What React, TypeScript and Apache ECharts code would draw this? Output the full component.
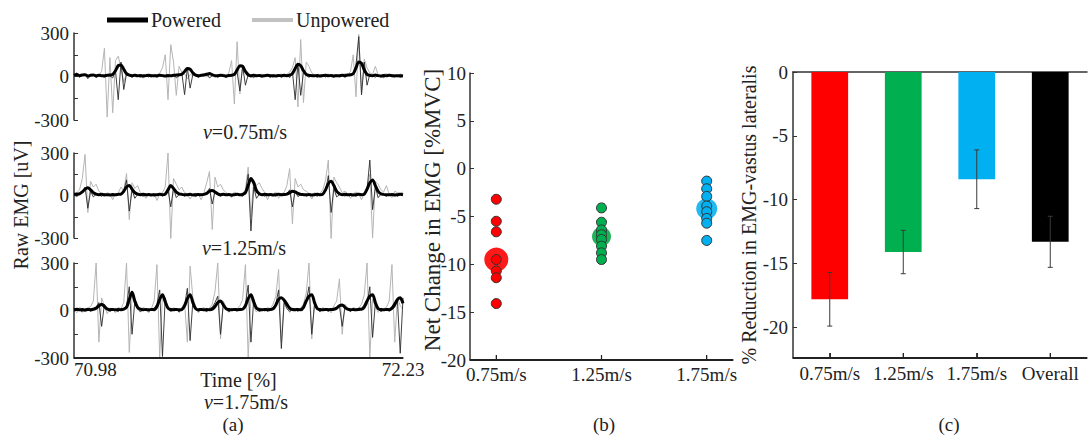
import React, { useEffect, useRef } from "react";
import * as echarts from "echarts";

const FONT = "Liberation Serif";
const TXT = "#222";
const AX = "#333";
const TICK_FS = 19;

// ---------- Panel (a) : raw EMG traces ----------
const timeLabels = ["70.98", "72.23"];
const emgTickValues = [-300, -150, 0, 150, 300];
const emgLabelValues = [-300, 0, 300];
const speedTexts = ["0.75", "1.25", "1.75"];

const unpowered075 = [
  8, 15, -6, 12, 18, -10, 6, 14, -4, 10,
  35, 195, -280, 130, -250, 110, 140, 60, -40, 25,
  12, -8, 18, 6, 10, -12, 14, 8, -6, 16,
  10, 22, 60, 150, -160, 220, 100, -130, 70, 30,
  18, -15, 12, 10, 6, -8, 14, 20, -4, 10,
  12, -8, 15, 10, 18, -10, 25, 110, -190, 240,
  -120, 80, 40, 18, -10, 15, 10, 6, 18, -6,
  10, 14, -10, 12, 8, 18, -6, 15, 30, 60,
  130, -210, 255, -180, 100, 70, 25, 12, -10, 14,
  12, 8, 18, -5, 10, 15, -8, 12, 20, 10,
  35, 150, -140, 290, -110, 120, 60, 25, 15, 70,
  12, -10, 15, 20, 6, 10, 14, -5, 18, 10,
];
const poweredRaw075 = [
  10, 25, -5, 8, 12, -15, 5, 10, -8, 6,
  4, -6, 8, 5, -10, 40, -160, 100, -90, 20,
  8, -5, 10, 4, -6, 12, 6, -4, 8, 5,
  -6, 10, 4, 8, -5, 6, 10, -8, 5, 25,
  -125, 60, -80, 15, 8, -6, 10, 5, 25, -10,
  6, 8, -5, 10, 4, -6, 8, 5, 10, 30,
  -100, 70, -60, 12, 5, -8, 10, 6, -4, 8,
  5, -6, 10, 4, 8, -5, 6, 10, -8, 35,
  -160, 90, -130, 30, 8, -6, 10, 5, -5, 8,
  6, -4, 10, 5, -6, 8, 4, 10, -5, 6,
  8, 20, 80, 275, -127, 100, -60, 15, 6, -5,
  10, 5, -8, 6, 10, -4, 8, 5, -6, 4,
];
const poweredEnv075 = [
  8, 14, 6, 10, 12, 4, 8, 10, 5, 8,
  6, 5, 8, 10, 15, 40, 75, 80, 50, 20,
  10, 6, 8, 5, 7, 4, 6, 8, 5, 6,
  5, 8, 6, 4, 7, 5, 8, 10, 12, 15,
  35, 55, 50, 25, 10, 6, 8, 10, 15, 20,
  12, 6, 5, 8, 6, 4, 7, 8, 15, 45,
  75, 70, 35, 12, 6, 8, 5, 7, 4, 6,
  8, 5, 6, 4, 7, 5, 8, 6, 10, 20,
  55, 85, 75, 40, 15, 8, 6, 5, 7, 4,
  6, 8, 5, 7, 4, 6, 5, 8, 6, 10,
  12, 20, 60, 100, 90, 45, 15, 8, 6, 10,
  6, 4, 7, 5, 8, 6, 4, 6, 5, 3,
];

const unpowered125 = [
  10, 20, 40, 120, 290, -120, 100, 60, 80, 30,
  15, -10, 20, 12, -30, 10, 18, 60, 30, 155,
  -170, 90, 50, 70, 20, 10, -20, 15, 8, 12,
  -35, 10, 20, 60, 300, -310, 120, 80, 40, 60,
  20, 12, -25, 10, 15, 8, -30, 20, 90, 170,
  -240, 130, 60, 80, 40, 20, 10, -15, 25, 12,
  8, 15, 40, 200, -150, 110, 70, 90, 50, 20,
  -30, 15, 10, 25, -20, 12, 20, 70, 190, -200,
  120, 60, 80, 40, 30, 15, -25, 20, 10, 15,
  40, 110, 250, -310, 130, 90, 60, 20, 30, 15,
  -20, 12, 25, 10, -30, 15, 60, 150, -300, 100,
  80, 40, 25, 70, 10, -15, 30, 20, 15, 25,
];
const poweredRaw125 = [
  5, -8, 10, 20, 60, -90, 30, -10, 8, 5,
  -6, 10, 4, 8, -5, 6, 10, 5, 30, 110,
  -110, 40, -20, 8, 5, -6, 10, 4, 8, -5,
  6, 10, -4, 8, 40, -80, 50, -15, 6, 8,
  -5, 10, 4, 6, -8, 5, 10, 6, 20, 50,
  -60, 30, 5, -6, 8, 4, 10, -5, 6, 8,
  5, -6, 20, 150, -250, 60, -20, 8, 5, -6,
  10, 4, 8, -5, 6, 10, 5, 8, 40, -80,
  30, -8, 6, 10, -5, 8, 4, 6, -6, 10,
  8, 30, 140, -120, 50, -10, 6, 8, -5, 10,
  4, 6, -6, 10, 8, 5, 40, 250, -100, 60,
  -15, 8, 5, -6, 10, 4, 8, -5, 6, 5,
];
const poweredEnv125 = [
  8, 10, 12, 25, 45, 55, 40, 20, 10, 6,
  8, 5, 6, 4, 7, 5, 8, 10, 30, 60,
  70, 45, 20, 10, 6, 8, 5, 7, 4, 6,
  5, 8, 6, 10, 40, 70, 50, 25, 12, 8,
  6, 5, 8, 4, 6, 7, 5, 8, 15, 30,
  35, 25, 12, 6, 8, 5, 7, 4, 6, 8,
  5, 8, 20, 70, 120, 90, 35, 12, 6, 8,
  5, 7, 4, 6, 8, 5, 7, 10, 20, 30,
  25, 15, 8, 6, 5, 7, 4, 6, 8, 5,
  10, 40, 85, 100, 70, 30, 12, 6, 8, 5,
  7, 4, 6, 8, 5, 10, 45, 90, 110, 70,
  30, 12, 8, 6, 5, 7, 4, 6, 8, 5,
];

const unpowered175 = [
  10, -15, 20, 8, -10, 15, 25, 60, 300, -200,
  80, 30, -20, 15, 10, -15, 20, 12, 50, 300,
  -265, 90, 40, 15, -10, 20, 8, -15, 12, 60,
  290, -300, 100, 30, 12, -10, 18, 8, -12, 15,
  50, -200, 280, 80, 25, -15, 10, 20, -10, 15,
  40, 120, 300, -180, 60, 20, -10, 15, 8, 12,
  30, 70, 290, -300, 90, 25, -10, 15, 12, -8,
  20, 10, 40, 90, 260, -200, 60, 20, -12, 15,
  10, -8, 18, 40, 110, 300, -180, 50, 15, -10,
  20, 8, 12, -15, 30, 60, 200, -150, 40, 15,
  -10, 20, 10, 15, 40, 100, 300, -300, 70, 25,
  -12, 15, 10, 20, 60, 290, -200, 80, 30, 10,
];
const poweredRaw175 = [
  -8, 12, 5, -10, 8, 15, -6, 10, 20, 50,
  -100, 40, 8, -6, 10, 5, -8, 12, 8, 30,
  150, -150, 60, 10, -8, 5, 12, -6, 8, 15,
  40, 130, -290, 80, 10, -5, 8, 12, -10, 6,
  30, 140, -190, 60, 8, -6, 10, 5, -8, 12,
  20, 50, 90, -150, 40, 8, -10, 6, 12, -5,
  15, 10, 40, 160, -200, 70, 10, -8, 5, 12,
  -6, 8, 20, 40, 130, -240, 50, 12, -6, 8,
  10, -5, 12, 20, 60, 150, -150, 40, 8, -8,
  10, 6, -5, 12, 8, 20, 30, -100, 20, 8,
  -6, 10, 5, 15, 12, 8, 40, 150, -170, 50,
  10, -8, 6, 12, -5, 8, 20, 60, -270, 80,
];
const poweredEnv175 = [
  5, 8, 4, 6, 3, 7, 5, 8, 15, 30,
  40, 25, 10, 5, 7, 4, 6, 5, 8, 20,
  70, 115, 60, 20, 8, 5, 6, 4, 7, 5,
  25, 70, 100, 55, 15, 6, 5, 7, 4, 6,
  30, 75, 100, 50, 12, 5, 7, 4, 6, 5,
  8, 25, 50, 60, 35, 12, 6, 4, 7, 5,
  6, 8, 30, 75, 100, 55, 15, 6, 4, 7,
  5, 6, 10, 35, 70, 80, 65, 40, 15, 6,
  5, 7, 4, 20, 60, 90, 100, 50, 12, 6,
  4, 7, 5, 6, 8, 15, 30, 35, 20, 8,
  5, 6, 4, 7, 8, 25, 60, 90, 100, 50,
  12, 6, 4, 7, 5, 15, 40, 70, 80, 45,
];

// ---------- Panel (b) : net change scatter ----------
const speeds = [0.75, 1.25, 1.75];
const speedRange = [0.625, 1.875];
const netChange075 = [-3.2, -5.5, -6.6, -9.5, -10.7, -11.4, -14.1];
const netChange125 = [-4.1, -5.6, -6.4, -6.9, -7.4, -8.1, -8.8, -9.5];
const netChange175 = [-1.3, -2.1, -2.9, -3.9, -4.5, -5.2, -5.7, -7.5];
const netChangeMeans = [-9.5, -7.1, -4.2];
const meanSizes = [24, 19, 21];

// ---------- Panel (c) : % reduction bars ----------
const barCategories = ["0.75m/s", "1.25m/s", "1.75m/s", "Overall"];
const reductionValues = [-17.8, -14.1, -8.4, -13.3];
const reductionErrors = [2.1, 1.7, 2.3, 2.0];
const barColors = ["#ff0000", "#00b050", "#00b0f0", "#000000"];
const reductionTicks = [0, -5, -10, -15, -20];

const speedColors = ["#ff0000", "#00b050", "#00b0f0"];
const meanColors = ["#ff1a1a", "#1fb35a", "#22b8f0"];

const EMG_MIN = -300;
const NET_MIN = -20;
const RED_MIN = -22.4;

export default function App() {
  const ref = useRef<HTMLDivElement>(null);

  useEffect(() => {
    document.body.style.margin = "0";
    if (!ref.current) return;
    const chart = echarts.init(ref.current, undefined, { renderer: "svg" });

    const emgSets = [
      [unpowered075, poweredRaw075, poweredEnv075],
      [unpowered125, poweredRaw125, poweredEnv125],
      [unpowered175, poweredRaw175, poweredEnv175],
    ];
    const emgGrids = [
      { left: 74, top: 33, width: 329, height: 87 },
      { left: 74, top: 153, width: 329, height: 85 },
      { left: 74, top: 263, width: 329, height: 95 },
    ];
    const gridB = { left: 470, top: 73, width: 263, height: 287 };
    const gridC = { left: 793, top: 72, width: 294, height: 286 };
    const lastIdx = unpowered075.length - 1;
    const axLine = () => ({ show: true, onZero: false, lineStyle: { color: AX, width: 1.5 } });

    const xAxes: any[] = [];
    const yAxes: any[] = [];
    const series: any[] = [];

    emgGrids.forEach((_, g) => {
      const isBottom = g === 2;
      xAxes.push({
        gridIndex: g,
        type: "value",
        position: "bottom",
        min: 0,
        max: lastIdx,
        axisLine: { ...axLine(), show: isBottom },
        axisTick: { show: false },
        splitLine: { show: false },
        axisLabel: isBottom
          ? {
              show: true,
              customValues: [0, lastIdx],
              formatter: (v: number) => (v === 0 ? timeLabels[0] : timeLabels[1]),
              alignMinLabel: "left",
              fontFamily: FONT,
              fontSize: TICK_FS,
              color: TXT,
              margin: 2,
            }
          : { show: false },
        name: isBottom ? "Time [%]" : "",
        nameLocation: "middle",
        nameGap: 12,
        nameMoveOverlap: false,
        nameTextStyle: { fontFamily: FONT, fontSize: 20, color: TXT },
      });
      yAxes.push({
        gridIndex: g,
        type: "value",
        min: EMG_MIN,
        max: 300,
        axisLine: axLine(),
        axisTick: { show: true, inside: true, length: 4, customValues: emgTickValues, lineStyle: { color: AX } },
        axisLabel: { customValues: emgLabelValues, fontFamily: FONT, fontSize: TICK_FS, color: TXT, margin: 5 },
        splitLine: { show: false },
      });
      const [unp, raw, env] = emgSets[g];
      series.push(
        {
          type: "line",
          name: "Unpowered",
          xAxisIndex: g,
          yAxisIndex: g,
          data: unp.map((v, i) => [i, v]),
          symbol: "none",
          lineStyle: { color: "#b5b5b5", width: 1 },
          z: 2,
        },
        {
          type: "line",
          name: "Powered raw",
          xAxisIndex: g,
          yAxisIndex: g,
          data: raw.map((v, i) => [i, v]),
          symbol: "none",
          lineStyle: { color: "#2b2b2b", width: 0.9 },
          z: 3,
        },
        {
          type: "line",
          name: "Powered",
          xAxisIndex: g,
          yAxisIndex: g,
          data: env.map((v, i) => [i, v]),
          symbol: "none",
          smooth: 0.3,
          lineStyle: { color: "#000", width: 3 },
          z: 4,
        }
      );
    });

    // Panel (b)
    xAxes.push({
      gridIndex: 3,
      type: "value",
      position: "bottom",
      min: speedRange[0],
      max: speedRange[1],
      axisLine: axLine(),
      axisTick: { show: true, inside: true, length: 5, customValues: speeds, lineStyle: { color: AX } },
      axisLabel: {
        customValues: speeds,
        formatter: (v: number) => v.toFixed(2) + "m/s",
        fontFamily: FONT,
        fontSize: TICK_FS,
        color: TXT,
        margin: 5,
      },
      splitLine: { show: false },
    });
    yAxes.push({
      gridIndex: 3,
      type: "value",
      min: NET_MIN,
      max: 10,
      interval: 5,
      axisLine: axLine(),
      axisTick: { show: true, inside: true, length: 4, lineStyle: { color: AX } },
      axisLabel: { fontFamily: FONT, fontSize: TICK_FS, color: TXT, margin: 4 },
      splitLine: { show: false },
    });
    const netSets = [netChange075, netChange125, netChange175];
    speeds.forEach((s, k) => {
      series.push({
        type: "scatter",
        name: "Mean " + s,
        xAxisIndex: 3,
        yAxisIndex: 3,
        data: [[s, netChangeMeans[k]]],
        symbolSize: meanSizes[k],
        itemStyle: { color: meanColors[k], opacity: 1 },
        z: 2,
      });
      series.push({
        type: "scatter",
        name: "Subjects " + s,
        xAxisIndex: 3,
        yAxisIndex: 3,
        data: netSets[k].map((v) => [s, v]),
        symbolSize: 10,
        itemStyle: { color: speedColors[k], borderColor: "#333", borderWidth: 1, opacity: 1 },
        z: 3,
      });
    });

    // Panel (c)
    xAxes.push({
      gridIndex: 4,
      type: "category",
      position: "bottom",
      data: barCategories,
      axisLine: axLine(),
      axisTick: { show: true, inside: true, alignWithLabel: true, length: 5, lineStyle: { color: AX } },
      axisLabel: { interval: 0, hideOverlap: false, fontFamily: FONT, fontSize: TICK_FS, color: TXT, margin: 6 },
      splitLine: { show: false },
    });
    xAxes.push({
      gridIndex: 4,
      type: "category",
      position: "top",
      data: barCategories,
      axisLine: axLine(),
      axisTick: { show: false },
      axisLabel: { show: false },
      splitLine: { show: false },
    });
    yAxes.push({
      gridIndex: 4,
      type: "value",
      min: RED_MIN,
      max: 0,
      axisLine: axLine(),
      axisTick: { show: true, inside: true, length: 4, customValues: reductionTicks, lineStyle: { color: AX } },
      axisLabel: { customValues: reductionTicks, fontFamily: FONT, fontSize: TICK_FS, color: TXT, margin: 5 },
      splitLine: { show: false },
      name: "% Reduction in EMG-vastus lateralis",
      nameLocation: "middle",
      nameGap: 34,
      nameMoveOverlap: false,
      nameTextStyle: { fontFamily: FONT, fontSize: 20, color: TXT },
    });
    series.push({
      type: "bar",
      name: "Reduction",
      xAxisIndex: 4,
      yAxisIndex: 4,
      barWidth: "50%",
      data: reductionValues.map((v, i) => ({ value: v, itemStyle: { color: barColors[i] } })),
      z: 2,
    });
    series.push({
      type: "custom",
      name: "Error",
      xAxisIndex: 4,
      yAxisIndex: 4,
      data: reductionValues.map((v, i) => [i, v - reductionErrors[i], v + reductionErrors[i]]),
      renderItem: (_params: any, api: any) => {
        const lo = api.coord([api.value(0), api.value(1)]);
        const hi = api.coord([api.value(0), api.value(2)]);
        const st = { stroke: "#3a3a3a", lineWidth: 1 };
        const cap = 2.5;
        return {
          type: "group",
          children: [
            { type: "line", shape: { x1: lo[0], y1: lo[1], x2: hi[0], y2: hi[1] }, style: st },
            { type: "line", shape: { x1: lo[0] - cap, y1: lo[1], x2: lo[0] + cap, y2: lo[1] }, style: st },
            { type: "line", shape: { x1: hi[0] - cap, y1: hi[1], x2: hi[0] + cap, y2: hi[1] }, style: st },
          ],
        };
      },
      z: 5,
    });

    const textStyle = (text: string, extra: any = {}) => ({
      text,
      fill: TXT,
      fontFamily: FONT,
      fontSize: 20,
      textAlign: "center",
      textVerticalAlign: "middle",
      ...extra,
    });
    const vLabelY = [132, 248, 402];
    const vLabelX = [245, 244, 246];

    const graphic: any[] = [
      { type: "line", shape: { x1: 107, y1: 20, x2: 148, y2: 20 }, style: { stroke: "#000", lineWidth: 5 } },
      { type: "text", x: 151, y: 20, style: textStyle("Powered", { textAlign: "left" }) },
      { type: "line", shape: { x1: 252, y1: 20, x2: 293, y2: 20 }, style: { stroke: "#c2c2c2", lineWidth: 4 } },
      { type: "text", x: 296, y: 20, style: textStyle("Unpowered", { textAlign: "left" }) },
      { type: "text", x: 21, y: 205, rotation: Math.PI / 2, style: textStyle("Raw EMG [uV]") },
      { type: "text", x: 432, y: 210, rotation: Math.PI / 2, style: textStyle("Net Change in EMG [%MVC]", { fontSize: 23 }) },
      ...speedTexts.map((s, k) => ({
        type: "text",
        x: vLabelX[k],
        y: vLabelY[k],
        style: textStyle("{i|v}=" + s + "m/s", {
          rich: { i: { fontStyle: "italic", fontFamily: FONT, fontSize: 20, fill: TXT } },
        }),
      })),
      { type: "text", x: 233, y: 424, style: textStyle("(a)", { fontSize: 19 }) },
      { type: "text", x: 604, y: 424, style: textStyle("(b)", { fontSize: 19 }) },
      { type: "text", x: 949, y: 424, style: textStyle("(c)", { fontSize: 19 }) },
    ];

    chart.setOption({
      animation: false,
      backgroundColor: "#fff",
      textStyle: { fontFamily: FONT },
      grid: [...emgGrids, gridB, gridC],
      xAxis: xAxes,
      yAxis: yAxes,
      series,
    });

    // Bottom frame lines and ticks, positioned through the chart's own scales
    const frame: any[] = [];
    const frameStyle = { stroke: "#222", lineWidth: 2 };
    const tickStyle = { stroke: "#222", lineWidth: 1.2 };
    const pa0 = chart.convertToPixel({ xAxisIndex: 2, yAxisIndex: 2 }, [0, EMG_MIN]) as number[];
    const pa1 = chart.convertToPixel({ xAxisIndex: 2, yAxisIndex: 2 }, [lastIdx, EMG_MIN]) as number[];
    frame.push({ type: "line", z: 50, shape: { x1: pa0[0], y1: pa0[1], x2: pa1[0], y2: pa1[1] }, style: frameStyle });
    const pb0 = chart.convertToPixel({ xAxisIndex: 3, yAxisIndex: 3 }, [speedRange[0], NET_MIN]) as number[];
    const pb1 = chart.convertToPixel({ xAxisIndex: 3, yAxisIndex: 3 }, [speedRange[1], NET_MIN]) as number[];
    frame.push({ type: "line", z: 50, shape: { x1: pb0[0], y1: pb0[1], x2: pb1[0], y2: pb1[1] }, style: frameStyle });
    speeds.forEach((s) => {
      const p = chart.convertToPixel({ xAxisIndex: 3, yAxisIndex: 3 }, [s, NET_MIN]) as number[];
      frame.push({ type: "line", z: 50, shape: { x1: p[0], y1: p[1], x2: p[0], y2: p[1] - 5 }, style: tickStyle });
    });
    const yc = chart.convertToPixel({ yAxisIndex: 4 }, RED_MIN) as number;
    frame.push({ type: "line", z: 50, shape: { x1: gridC.left, y1: yc, x2: gridC.left + gridC.width, y2: yc }, style: frameStyle });
    barCategories.forEach((_, i) => {
      const xc = chart.convertToPixel({ xAxisIndex: 4 }, i) as number;
      frame.push({ type: "line", z: 50, shape: { x1: xc, y1: yc, x2: xc, y2: yc - 5 }, style: tickStyle });
    });

    chart.setOption({ graphic: [...graphic, ...frame] });

    return () => chart.dispose();
  }, []);

  return <div ref={ref} style={{ width: 1091, height: 436 }} />;
}
